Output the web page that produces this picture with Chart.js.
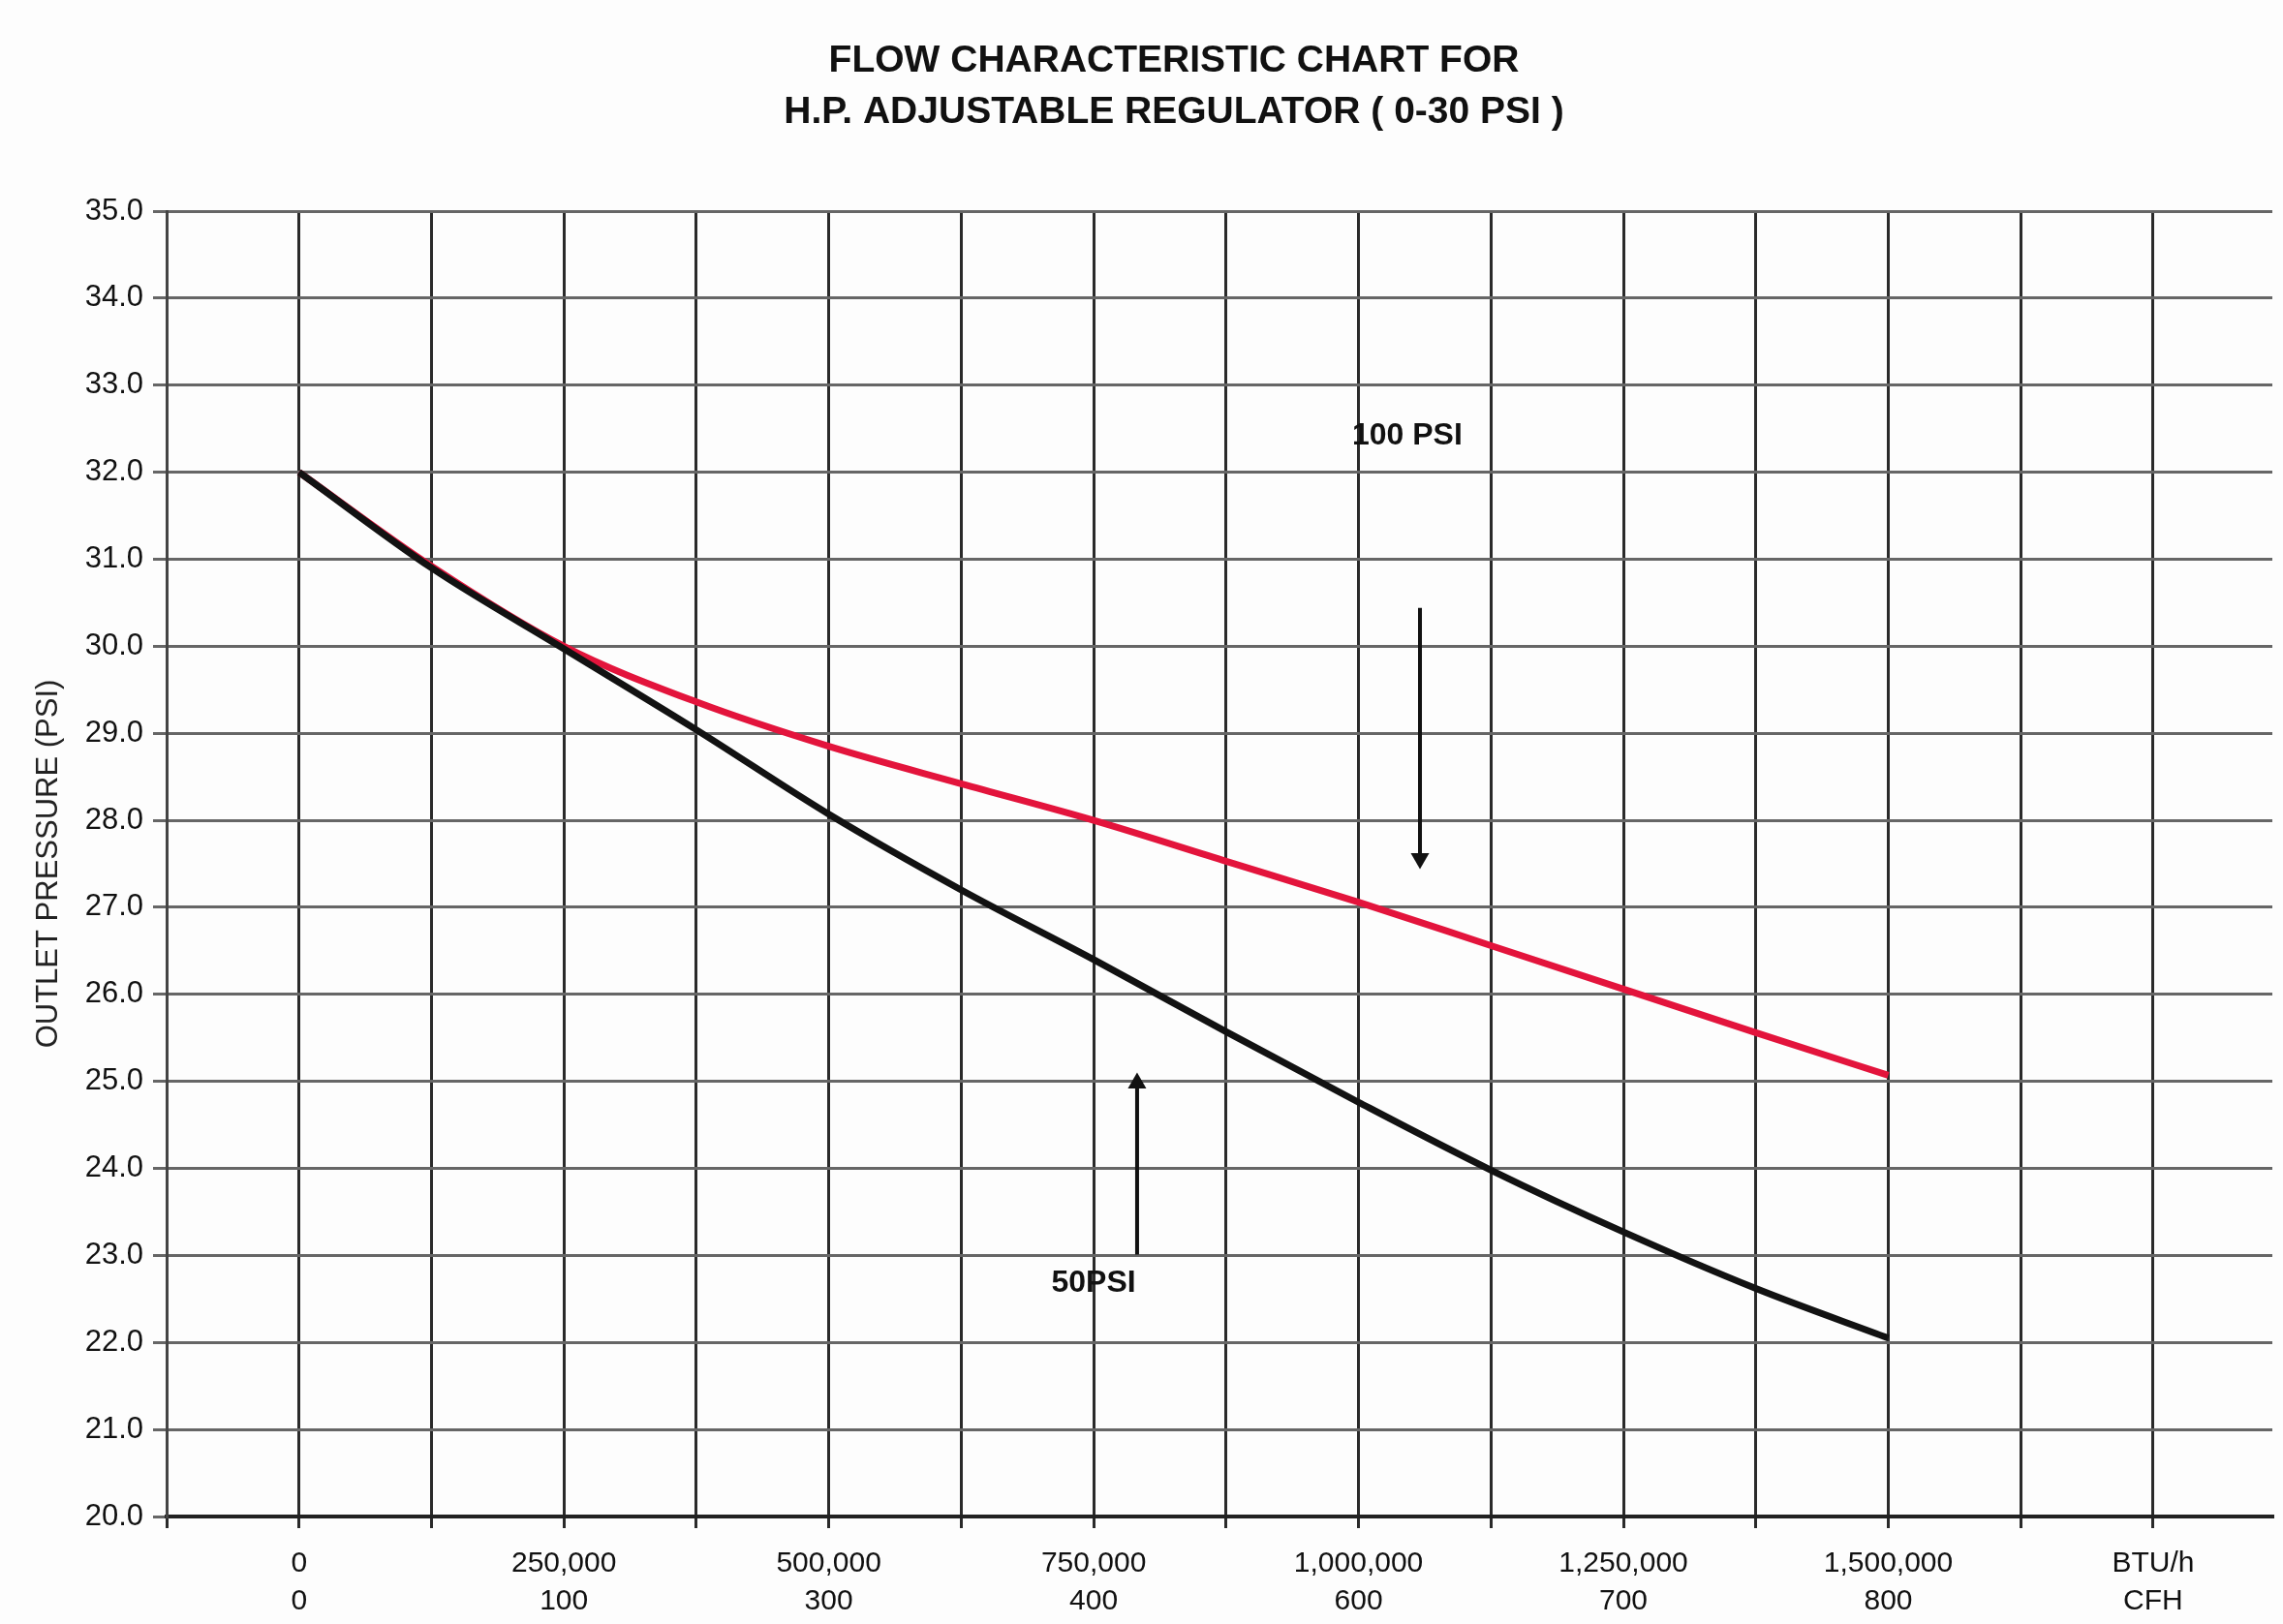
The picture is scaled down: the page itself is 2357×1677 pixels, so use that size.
<!DOCTYPE html>
<html>
<head>
<meta charset="utf-8">
<title>Flow Characteristic Chart</title>
<script src="https://cdn.jsdelivr.net/npm/chart.js@4.4.1/dist/chart.umd.min.js"></script>
<style>
    html, body { margin: 0; padding: 0; background: #fdfdfd; }
    canvas { display: block; }
</style>
</head>
<body>
<canvas id="flowChart" width="2357" height="1677"></canvas>
<script>
"use strict";

// flow in BTU/h and outlet pressure (PSI) for each inlet pressure
const flowBtu = [0, 125000, 250000, 375000, 500000, 625000, 750000, 875000, 1000000, 1125000, 1250000, 1375000, 1500000];
const outlet100 = [32.0, 30.92, 30.0, 29.36, 28.85, 28.42, 28.0, 27.53, 27.06, 26.56, 26.06, 25.56, 25.07];
const outlet50 = [32.0, 30.9, 29.97, 29.04, 28.07, 27.2, 26.4, 25.57, 24.76, 23.98, 23.27, 22.62, 22.05];

// x axis: only these ticks get a label (BTU/h on top, CFH below)
const labelFlow = [0, 250000, 500000, 750000, 1000000, 1250000, 1500000, 1750000];
const btuLabels = ['0', '250,000', '500,000', '750,000', '1,000,000', '1,250,000', '1,500,000', 'BTU/h'];
const cfhLabels = ['0', '100', '300', '400', '600', '700', '800', 'CFH'];

const titleLines = ['FLOW CHARACTERISTIC CHART FOR', 'H.P. ADJUSTABLE REGULATOR ( 0-30 PSI )'];

// callouts: arrow shaft from/to (PSI) at a flow value, plus text
const arrow100 = { x: 1058000, from: 30.44, to: 27.56 };
const arrow50 = { x: 791000, from: 23.01, to: 24.98 };
const notes = [
    { text: '100 PSI', x: 1046000, y: 32.42 },
    { text: '50PSI', x: 750000, y: 22.68 }
];

const FLOW_MIN = -125000;
const FLOW_MAX = 1862500;
const FLOW_STEP = 125000;

const FONT = '"Liberation Sans", Arial, sans-serif';
const INK = '#111';

const toPoints = (xs, ys) => xs.map((x, i) => ({ x: x, y: ys[i] }));

const arrowSet = (a, up) => ({
    data: [{ x: a.x, y: a.from }, { x: a.x, y: a.to }],
    borderColor: INK,
    borderWidth: 4,
    tension: 0,
    pointRadius: [0, 11],
    pointStyle: 'triangle',
    pointRotation: [0, up ? 0 : 180],
    pointBackgroundColor: INK,
    pointBorderWidth: 0
});

// two-line heading over the plot
const headingPlugin = {
    id: 'heading',
    afterDraw(chart) {
        const ctx = chart.ctx;
        ctx.save();
        ctx.font = 'bold 39px ' + FONT;
        ctx.fillStyle = INK;
        ctx.textAlign = 'center';
        ctx.textBaseline = 'middle';
        ctx.fillText(titleLines[0], 1212, 63);
        ctx.fillText(titleLines[1], 1212, 116);
        ctx.restore();
    }
};

// callout texts placed in data coordinates
const notesPlugin = {
    id: 'notes',
    afterDatasetsDraw(chart) {
        const { ctx, scales } = chart;
        ctx.save();
        ctx.font = 'bold 32px ' + FONT;
        ctx.fillStyle = INK;
        ctx.textAlign = 'center';
        ctx.textBaseline = 'middle';
        notes.forEach(n => {
            ctx.fillText(n.text, scales.x.getPixelForValue(n.x), scales.y.getPixelForValue(n.y));
        });
        ctx.restore();
    }
};

const ctx = document.getElementById('flowChart');

new Chart(ctx, {
    type: 'line',
    data: {
        datasets: [{
            label: '50 PSI',
            data: toPoints(flowBtu, outlet50),
            borderColor: '#121212',
            borderWidth: 7,
            pointRadius: 0,
            cubicInterpolationMode: 'monotone'
        }, {
            label: '100 PSI',
            data: toPoints(flowBtu, outlet100),
            borderColor: '#e3143c',
            borderWidth: 7,
            pointRadius: 0,
            cubicInterpolationMode: 'monotone'
        },
        arrowSet(arrow100, false),
        arrowSet(arrow50, true)]
    },
    options: {
        responsive: false,
        animation: false,
        devicePixelRatio: 1,
        layout: { padding: { top: 218, left: 0, right: 0, bottom: 0 } },
        plugins: {
            legend: { display: false },
            tooltip: { enabled: false },
            title: { display: false }
        },
        scales: {
            x: {
                type: 'linear',
                bounds: 'data',
                // range set here so the step stays at exactly 125,000
                afterDataLimits(scale) {
                    scale.min = FLOW_MIN;
                    scale.max = FLOW_MAX;
                },
                afterBuildTicks(scale) {
                    scale.ticks = scale.ticks.filter(t => t.value % FLOW_STEP === 0);
                },
                afterFit(scale) { scale.height = 111; },
                ticks: {
                    stepSize: FLOW_STEP,
                    autoSkip: false,
                    maxRotation: 0,
                    padding: 17,
                    color: INK,
                    font: { family: FONT, size: 30, lineHeight: 1.3 },
                    callback(value) {
                        const i = labelFlow.indexOf(value);
                        return i < 0 ? '' : [btuLabels[i], cfhLabels[i]];
                    }
                },
                grid: { color: '#2a2a2a', lineWidth: 3, tickLength: 12 },
                border: { color: '#222', width: 4 }
            },
            y: {
                min: 20,
                max: 35,
                afterFit(scale) { scale.width = 172; },
                ticks: {
                    stepSize: 1,
                    padding: 10,
                    color: INK,
                    font: { family: FONT, size: 31 },
                    callback: (value) => value.toFixed(1)
                },
                grid: { color: '#666', lineWidth: 3, tickLength: 14 },
                border: { color: '#444', width: 3 },
                title: {
                    display: true,
                    text: 'OUTLET PRESSURE (PSI)',
                    color: '#222',
                    font: { family: FONT, size: 31 },
                    padding: { top: 32, bottom: 0 }
                }
            }
        }
    },
    plugins: [headingPlugin, notesPlugin]
});
</script>
</body>
</html>
